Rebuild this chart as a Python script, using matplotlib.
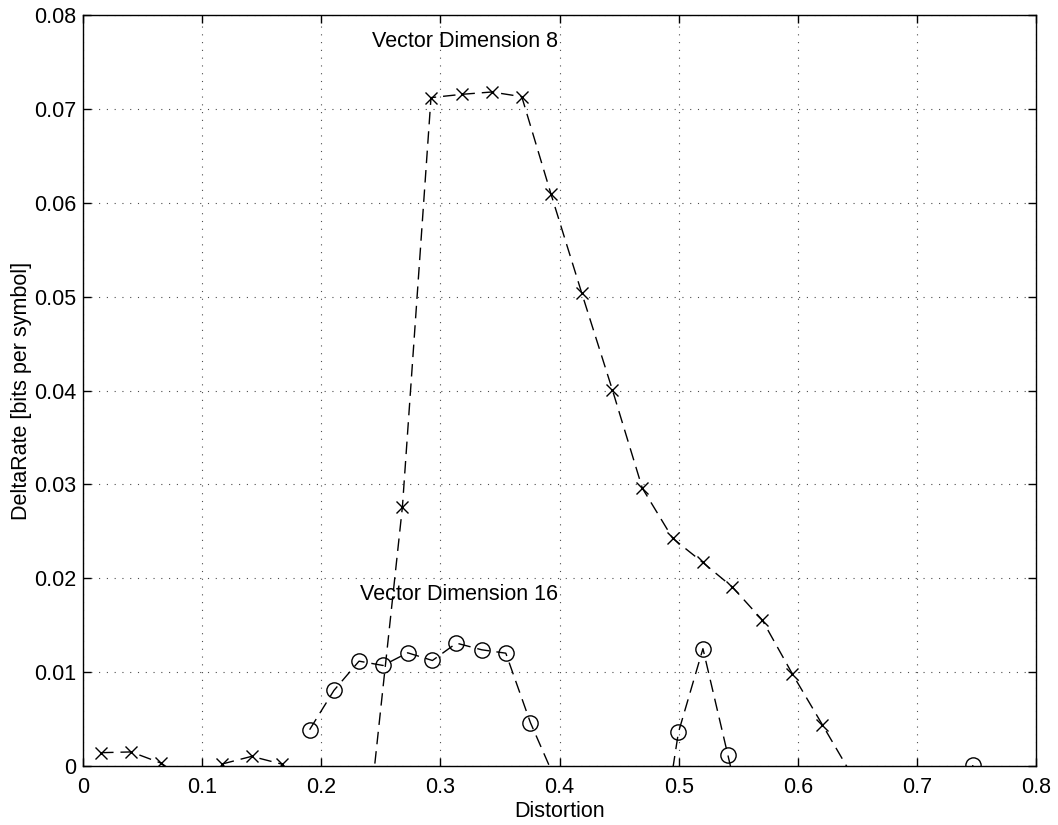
import numpy as np
from matplotlib import pyplot as plt

plt.rcParams['font.family'] = ['Liberation Sans', 'DejaVu Sans']

# Vector dimension 8 (x markers); values below 0 are clipped by the axis
dist_8 = [0.0151, 0.0404, 0.0657, 0.0910, 0.1163, 0.1416, 0.1669, 0.1922,
          0.2175, 0.2428, 0.2681, 0.2921, 0.3179, 0.3431, 0.3683, 0.3929,
          0.4186, 0.4443, 0.4695, 0.4950, 0.5201, 0.5451, 0.5702, 0.5953,
          0.6207, 0.6460]
rate_8 = [0.00142, 0.00150, 0.00030, -0.0020, 0.00020, 0.00103, 0.00020, -0.0030,
          -0.0040, -0.0023, 0.0276, 0.0712, 0.07155, 0.0718, 0.0713, 0.0609,
          0.0504, 0.0401, 0.0296, 0.02426, 0.0217, 0.01907, 0.01555, 0.00985,
          0.00439, -0.0011]

# Vector dimension 16 (o markers)
dist_16 = [0.1902, 0.2106, 0.2317, 0.2518, 0.2725, 0.2933, 0.3135, 0.3347,
           0.3549, 0.3756, 0.3963, 0.4170, 0.4377, 0.4584, 0.4791, 0.4998,
           0.5204, 0.5413, 0.5619, 0.5826, 0.6033, 0.6240, 0.6447, 0.6654,
           0.6861, 0.7068, 0.7275, 0.7470]
rate_16 = [0.00387, 0.00805, 0.01117, 0.01071, 0.01206, 0.01124, 0.01309, 0.01238,
           0.01202, 0.00461, -0.0014, -0.0100, -0.0150, -0.0150, -0.0134, 0.00357,
           0.0125, 0.00118, -0.0100, -0.0150, -0.0150, -0.0150, -0.0150, -0.0150,
           -0.0150, -0.0150, -0.0150, 0.0001]

dpi = 100
fig = plt.figure(figsize=(1058 / dpi, 825 / dpi), dpi=dpi)
ax = fig.add_axes([0.0785, 0.0715, 0.9007, 0.9103])

dash = (9, 5)
ax.plot(dist_8, rate_8, color='k', lw=1.0, dashes=dash, marker='x',
        markersize=8, markeredgewidth=1.0)
ax.plot(dist_16, rate_16, color='k', lw=1.0, dashes=dash, marker='o',
        markersize=11, markerfacecolor='none', markeredgewidth=1.0)

fs = 15.5
ax.text(0.2426, 0.0772, 'Vector Dimension 8', fontsize=fs, va='center', ha='left')
ax.text(0.2325, 0.0183, 'Vector Dimension 16', fontsize=fs, va='center', ha='left')

ax.set_xlim(0, 0.8)
ax.set_ylim(0, 0.08)
ax.set_xticks(np.arange(0, 0.81, 0.1))
ax.set_yticks(np.arange(0, 0.081, 0.01))
ax.set_xticklabels(['0', '0.1', '0.2', '0.3', '0.4', '0.5', '0.6', '0.7', '0.8'])
ax.set_yticklabels(['0', '0.01', '0.02', '0.03', '0.04', '0.05', '0.06', '0.07', '0.08'])
ax.tick_params(direction='in', length=6, width=1, top=True, right=True, labelsize=fs)
ax.tick_params(axis='x', pad=8)
ax.tick_params(axis='y', pad=5)
ax.grid(True, color='k', linestyle=(0, (1, 6)), linewidth=0.8, alpha=0.7)
for s in ax.spines.values():
    s.set_linewidth(1.0)

ax.set_xlabel('Distortion', fontsize=fs, labelpad=2)
ax.set_ylabel('DeltaRate [bits per symbol]', fontsize=fs, labelpad=1)

fig.savefig('out.png', dpi=dpi)
